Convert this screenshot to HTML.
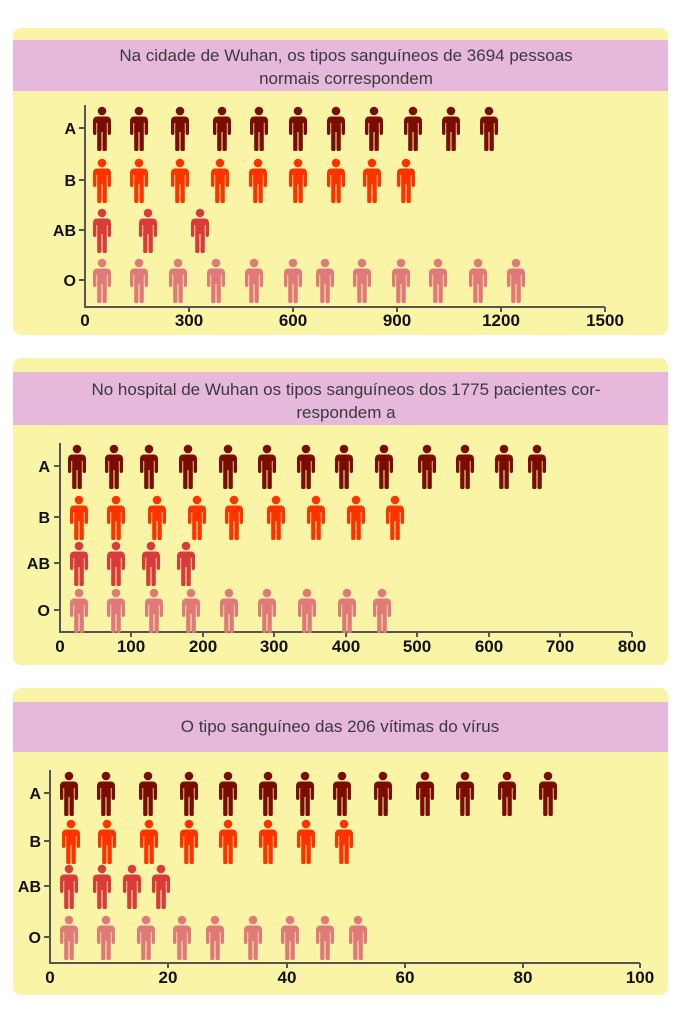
<!DOCTYPE html><html><head><meta charset="utf-8"><style>
body{margin:0;background:#fff;width:683px;height:1024px;overflow:hidden}
svg text{font-family:"Liberation Sans",sans-serif}
.t{font-size:17px;fill:#3a3a3a;text-anchor:middle}
.lb{font-size:16px;font-weight:bold;fill:#111;text-anchor:end}
.tk{font-size:17px;font-weight:bold;fill:#111;text-anchor:middle}
</style></head><body>
<svg width="683" height="1024" xmlns="http://www.w3.org/2000/svg">
<defs>
<g id="p">
<circle cx="0" cy="-17" r="4.3"/>
<path d="M-5,-11.5 H5 Q9,-11.5 9,-6.5 V5 Q9,7 7.3,7 Q5.6,7 5.6,5 V-5 H4.8 V4 H-4.8 V-5 H-5.6 V5 Q-5.6,7 -7.3,7 Q-9,7 -9,5 V-6.5 Q-9,-11.5 -5,-11.5 Z"/>
<rect x="-4.8" y="2" width="4.3" height="21" rx="1.5"/>
<rect x="0.5" y="2" width="4.3" height="21" rx="1.5"/>
</g>
</defs>
<!-- Panel 1 -->
<rect x="13" y="28" width="655" height="307" rx="8" fill="#f9f4a6"/>
<rect x="13" y="40" width="655" height="51" fill="#e6b8dc"/>
<text class="t" x="346" y="61">Na cidade de Wuhan, os tipos sanguíneos de 3694 pessoas</text>
<text class="t" x="346" y="84">normais correspondem</text>
<g stroke="#555" stroke-width="2" fill="none"><path d="M85,105 V307 H605"/><path d="M79,128H85M79,180H85M79,230H85M79,280H85M189,307v5M293,307v5M397,307v5M501,307v5M605,307v5"/></g>
<text class="lb" x="76" y="134">A</text><text class="lb" x="76" y="186">B</text><text class="lb" x="76" y="236">AB</text><text class="lb" x="76" y="286">O</text>
<text class="tk" x="85" y="326">0</text><text class="tk" x="189" y="326">300</text><text class="tk" x="293" y="326">600</text><text class="tk" x="397" y="326">900</text><text class="tk" x="501" y="326">1200</text><text class="tk" x="605" y="326">1500</text>
<g fill="#7a0c00"><use href="#p" x="102" y="128"/><use href="#p" x="139" y="128"/><use href="#p" x="180" y="128"/><use href="#p" x="222" y="128"/><use href="#p" x="259" y="128"/><use href="#p" x="298" y="128"/><use href="#p" x="336" y="128"/><use href="#p" x="374" y="128"/><use href="#p" x="413" y="128"/><use href="#p" x="451" y="128"/><use href="#p" x="489" y="128"/></g>
<g fill="#ff3300"><use href="#p" x="102" y="180"/><use href="#p" x="139" y="180"/><use href="#p" x="180" y="180"/><use href="#p" x="220" y="180"/><use href="#p" x="258" y="180"/><use href="#p" x="298" y="180"/><use href="#p" x="336" y="180"/><use href="#p" x="372" y="180"/><use href="#p" x="406" y="180"/></g>
<g fill="#d93a3a"><use href="#p" x="102" y="230"/><use href="#p" x="148" y="230"/><use href="#p" x="200" y="230"/></g>
<g fill="#e07a7a"><use href="#p" x="102" y="280"/><use href="#p" x="139" y="280"/><use href="#p" x="178" y="280"/><use href="#p" x="216" y="280"/><use href="#p" x="254" y="280"/><use href="#p" x="293" y="280"/><use href="#p" x="325" y="280"/><use href="#p" x="362" y="280"/><use href="#p" x="401" y="280"/><use href="#p" x="438" y="280"/><use href="#p" x="478" y="280"/><use href="#p" x="516" y="280"/></g>
<!-- Panel 2 -->
<rect x="13" y="358" width="655" height="307" rx="8" fill="#f9f4a6"/>
<rect x="13" y="372" width="655" height="53" fill="#e6b8dc"/>
<text class="t" x="346" y="395">No hospital de Wuhan os tipos sanguíneos dos 1775 pacientes cor-</text>
<text class="t" x="346" y="418">respondem a</text>
<g stroke="#555" stroke-width="2" fill="none"><path d="M60,443 V632 H632"/><path d="M54,466H60M54,517H60M54,563H60M54,610H60M131,632v5M203,632v5M274,632v5M346,632v5M417,632v5M489,632v5M560,632v5M632,632v5"/></g>
<text class="lb" x="50" y="472">A</text><text class="lb" x="50" y="523">B</text><text class="lb" x="50" y="569">AB</text><text class="lb" x="50" y="616">O</text>
<text class="tk" x="60" y="652">0</text><text class="tk" x="131" y="652">100</text><text class="tk" x="203" y="652">200</text><text class="tk" x="274" y="652">300</text><text class="tk" x="346" y="652">400</text><text class="tk" x="417" y="652">500</text><text class="tk" x="489" y="652">600</text><text class="tk" x="560" y="652">700</text><text class="tk" x="632" y="652">800</text>
<g fill="#7a0c00"><use href="#p" x="77" y="466"/><use href="#p" x="114" y="466"/><use href="#p" x="149" y="466"/><use href="#p" x="188" y="466"/><use href="#p" x="228" y="466"/><use href="#p" x="267" y="466"/><use href="#p" x="306" y="466"/><use href="#p" x="344" y="466"/><use href="#p" x="384" y="466"/><use href="#p" x="427" y="466"/><use href="#p" x="465" y="466"/><use href="#p" x="504" y="466"/><use href="#p" x="537" y="466"/></g>
<g fill="#ff3300"><use href="#p" x="79" y="517"/><use href="#p" x="116" y="517"/><use href="#p" x="157" y="517"/><use href="#p" x="197" y="517"/><use href="#p" x="234" y="517"/><use href="#p" x="276" y="517"/><use href="#p" x="316" y="517"/><use href="#p" x="356" y="517"/><use href="#p" x="395" y="517"/></g>
<g fill="#d93a3a"><use href="#p" x="79" y="563"/><use href="#p" x="116" y="563"/><use href="#p" x="151" y="563"/><use href="#p" x="186" y="563"/></g>
<g fill="#e07a7a"><use href="#p" x="79" y="610"/><use href="#p" x="116" y="610"/><use href="#p" x="154" y="610"/><use href="#p" x="191" y="610"/><use href="#p" x="229" y="610"/><use href="#p" x="267" y="610"/><use href="#p" x="307" y="610"/><use href="#p" x="347" y="610"/><use href="#p" x="382" y="610"/></g>
<!-- Panel 3 -->
<rect x="13" y="688" width="655" height="307" rx="8" fill="#f9f4a6"/>
<rect x="13" y="702" width="655" height="50" fill="#e6b8dc"/>
<text class="t" x="340" y="732">O tipo sanguíneo das 206 vítimas do vírus</text>
<g stroke="#555" stroke-width="2" fill="none"><path d="M50,770 V963 H640"/><path d="M44,793H50M44,841H50M44,886H50M44,937H50M168,963v5M287,963v5M405,963v5M523,963v5M640,963v5"/></g>
<text class="lb" x="41" y="799">A</text><text class="lb" x="41" y="847">B</text><text class="lb" x="41" y="892">AB</text><text class="lb" x="41" y="943">O</text>
<text class="tk" x="50" y="983">0</text><text class="tk" x="168" y="983">20</text><text class="tk" x="287" y="983">40</text><text class="tk" x="405" y="983">60</text><text class="tk" x="523" y="983">80</text><text class="tk" x="640" y="983">100</text>
<g fill="#7a0c00"><use href="#p" x="69" y="793"/><use href="#p" x="106" y="793"/><use href="#p" x="148" y="793"/><use href="#p" x="189" y="793"/><use href="#p" x="228" y="793"/><use href="#p" x="268" y="793"/><use href="#p" x="305" y="793"/><use href="#p" x="342" y="793"/><use href="#p" x="383" y="793"/><use href="#p" x="425" y="793"/><use href="#p" x="465" y="793"/><use href="#p" x="507" y="793"/><use href="#p" x="548" y="793"/></g>
<g fill="#ff3300"><use href="#p" x="71" y="841"/><use href="#p" x="107" y="841"/><use href="#p" x="149" y="841"/><use href="#p" x="189" y="841"/><use href="#p" x="228" y="841"/><use href="#p" x="268" y="841"/><use href="#p" x="306" y="841"/><use href="#p" x="344" y="841"/></g>
<g fill="#d93a3a"><use href="#p" x="69" y="886"/><use href="#p" x="102" y="886"/><use href="#p" x="132" y="886"/><use href="#p" x="161" y="886"/></g>
<g fill="#e07a7a"><use href="#p" x="69" y="937"/><use href="#p" x="106" y="937"/><use href="#p" x="146" y="937"/><use href="#p" x="182" y="937"/><use href="#p" x="215" y="937"/><use href="#p" x="253" y="937"/><use href="#p" x="290" y="937"/><use href="#p" x="325" y="937"/><use href="#p" x="358" y="937"/></g>
</svg>
</body></html>
